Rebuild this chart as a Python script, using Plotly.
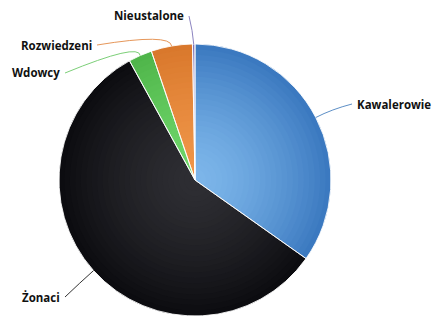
import math
import plotly.graph_objects as go

categories = ["Kawalerowie", "Żonaci", "Wdowcy", "Rozwiedzeni", "Nieustalone"]
values = [34.8, 57.2, 2.8, 4.9, 0.3]

W_PX, H_PX = 434, 318
ML, MR, MT, MB = 0, 42, 44, 2
PW, PH = W_PX - ML - MR, H_PX - MT - MB
CX, CY = ML + PW / 2 - 1, MT + PH / 2
R = min(PW, PH) / 2

# colours: (centre colour, edge colour)
inner_cols = ["#7db6ea", "#2e2e33", "#6fd66a", "#ef9548", "#a49ad6"]
outer_cols = ["#3b79c0", "#0c0c10", "#4fb54a", "#d9782c", "#7f74b8"]


def mix(c1, c2, t):
    a = [int(c1[i:i + 2], 16) for i in (1, 3, 5)]
    b = [int(c2[i:i + 2], 16) for i in (1, 3, 5)]
    return "#" + "".join(f"{round(a[k] + (b[k] - a[k]) * t):02x}" for k in range(3))


def px_to_paper(x, y):
    return (x - ML) / PW, (H_PX - MB - y) / PH


fig = go.Figure()
N = 24
for i in range(N + 1):
    frac = 1 - i / (N + 1)  # radius fraction
    t = frac ** 1.5
    cols = [mix(inner_cols[k], outer_cols[k], t) for k in range(len(values))]
    r = R * frac
    x0, y1 = px_to_paper(CX - r, CY - r)
    x1, y0 = px_to_paper(CX + r, CY + r)
    fig.add_trace(go.Pie(
        labels=categories, values=values, sort=False, direction="clockwise",
        rotation=0, textinfo="none", hoverinfo="label+value",
        marker=dict(colors=cols, line=dict(width=0)),
        domain=dict(x=[x0, x1], y=[y0, y1]), showlegend=False,
    ))

# top layer: white slice separators
x0, y1 = px_to_paper(CX - R, CY - R)
x1, y0 = px_to_paper(CX + R, CY + R)
fig.add_trace(go.Pie(
    labels=categories, values=values, sort=False, direction="clockwise",
    rotation=0, textinfo="none", hoverinfo="skip",
    marker=dict(colors=["rgba(0,0,0,0)"] * len(values),
                line=dict(color="rgba(255,255,255,0.85)", width=1)),
    domain=dict(x=[x0, x1], y=[y0, y1]), showlegend=False,
))

# label anchors (pixel layout positions) and text alignment
label_pos = {
    "Kawalerowie": (355, 104, "left"),
    "Żonaci": (62, 297, "right"),
    "Wdowcy": (62, 73, "right"),
    "Rozwiedzeni": (94, 45, "right"),
    "Nieustalone": (186, 16, "right"),
}
line_cols = ["#5d8fc6", "#333333", "#7ccf78", "#e6975a", "#8c84c0"]

total = sum(values)
cum = 0
shapes = []
annotations = []
for k, (cat, v) in enumerate(zip(categories, values)):
    mid = (cum + v / 2) / total * 2 * math.pi
    cum += v
    ex, ey = CX + R * math.sin(mid), CY - R * math.cos(mid)
    lx, ly, align = label_pos[cat]
    sx = lx + (3 if align == "right" else -3)
    cx_, cy_ = CX + (R + 18) * math.sin(mid), CY - (R + 18) * math.cos(mid)
    if cat in ("Wdowcy", "Rozwiedzeni", "Nieustalone"):
        cx_, cy_ = ex - 1, ey - 13
    p0 = px_to_paper(sx, ly)
    pc = px_to_paper(cx_, cy_)
    p1 = px_to_paper(ex, ey)
    shapes.append(dict(
        type="path", xref="paper", yref="paper",
        path=f"M {p0[0]},{p0[1]} Q {pc[0]},{pc[1]} {p1[0]},{p1[1]}",
        line=dict(color=line_cols[k], width=1),
    ))
    ax, ay = px_to_paper(lx, ly)
    annotations.append(dict(
        x=ax, y=ay, xref="paper", yref="paper", text=f"<b>{cat}</b>",
        showarrow=False, xanchor=align, yanchor="middle",
        font=dict(family="Open Sans, DejaVu Sans", size=11.5, color="#111111"),
    ))

fig.update_layout(
    width=W_PX, height=H_PX,
    margin=dict(l=ML, r=MR, t=MT, b=MB),
    paper_bgcolor="white", plot_bgcolor="white",
    shapes=shapes, annotations=annotations,
)
fig.write_html("out.html", config={"displayModeBar": False},
               post_script="document.body.style.margin='0px';")
